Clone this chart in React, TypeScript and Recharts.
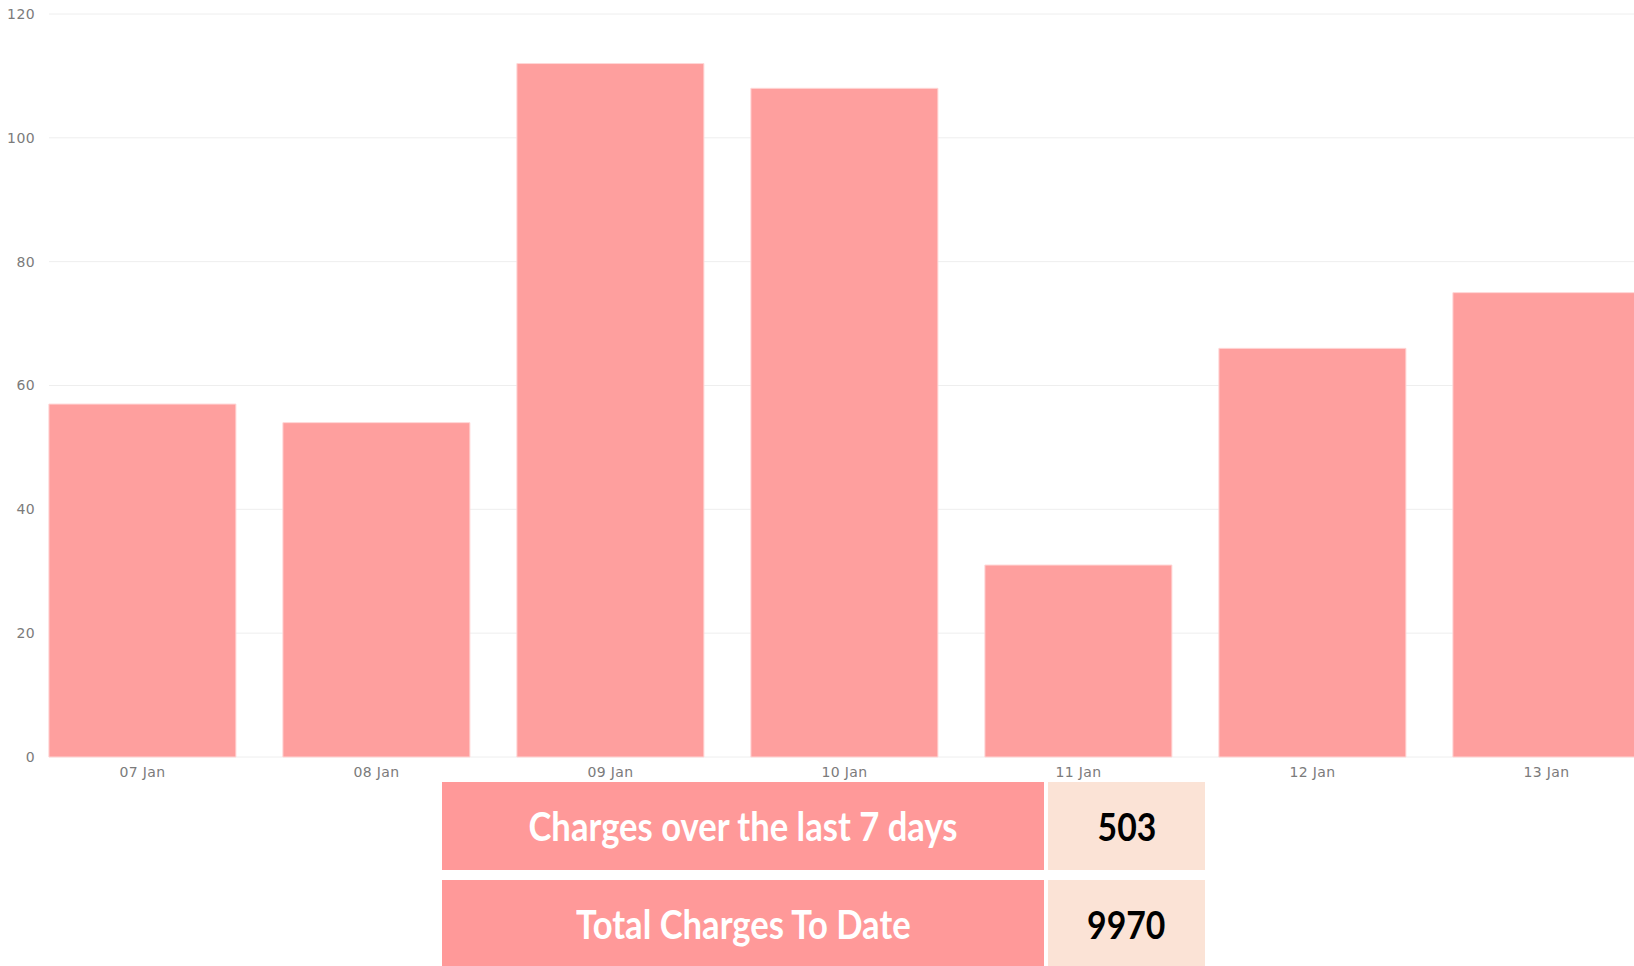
import { BarChart, Bar, XAxis, YAxis, CartesianGrid } from 'recharts';

const days = ['07 Jan', '08 Jan', '09 Jan', '10 Jan', '11 Jan', '12 Jan', '13 Jan'];
const charges = [57, 54, 112, 108, 31, 66, 75];
const yTicks = [0, 20, 40, 60, 80, 100, 120];

const summaryLabels = ['Charges over the last 7 days', 'Total Charges To Date'];
const summaryValues = [503, 9970];

const data = days.map((day, i) => ({ day, charges: charges[i] }));

const tickStyle = {
  fill: '#7b7b7b',
  fontSize: 14,
  fontFamily: '"DejaVu Sans", sans-serif',
  letterSpacing: 0.4,
};

const cellStyle = {
  fontFamily: 'Lato, sans-serif',
  fontWeight: 700,
  display: 'flex',
  alignItems: 'center',
  justifyContent: 'center',
};

// the source uses a narrow font, so squeeze Lato a little
const narrow = { display: 'inline-block', transform: 'scaleX(0.865)', whiteSpace: 'nowrap' as const };

function SummaryRow({ label, value, top }: { label: string; value: number; top: number }) {
  return (
    <div style={{ position: 'absolute', left: 442, top, height: 88, display: 'flex' }}>
      <div style={{ ...cellStyle, width: 602, background: '#FF9999', color: '#fff', fontSize: 40 }}>
        <span style={narrow}>{label}</span>
      </div>
      <div
        style={{ ...cellStyle, width: 157, marginLeft: 4, background: '#FBE3D6', color: '#000', fontSize: 39 }}
      >
        <span style={narrow}>{value}</span>
      </div>
    </div>
  );
}

export default function App() {
  return (
    <div
      style={{
        position: 'fixed',
        left: 0,
        top: 0,
        width: 1634,
        height: 966,
        overflow: 'hidden',
        background: '#fff',
      }}
    >
      <BarChart
        width={1634}
        height={790}
        data={data}
        margin={{ top: 14, right: 0, bottom: 0, left: 0 }}
        barCategoryGap="10%"
      >
        <CartesianGrid vertical={false} stroke="#eeeeee" />
        <XAxis
          dataKey="day"
          height={33}
          padding={{ left: -23.5, right: -29.5 }}
          axisLine={false}
          tickLine={false}
          tickMargin={4}
          tick={tickStyle}
          interval={0}
        />
        <YAxis
          width={49}
          domain={[0, 120]}
          ticks={yTicks}
          axisLine={false}
          tickLine={false}
          tickMargin={8}
          tick={tickStyle}
        />
        <Bar dataKey="charges" fill="#FE9F9E" stroke="#ffd6d6" strokeWidth={1} isAnimationActive={false} />
      </BarChart>
      {summaryLabels.map((label, i) => (
        <SummaryRow key={label} label={label} value={summaryValues[i]} top={782 + i * 98} />
      ))}
    </div>
  );
}
